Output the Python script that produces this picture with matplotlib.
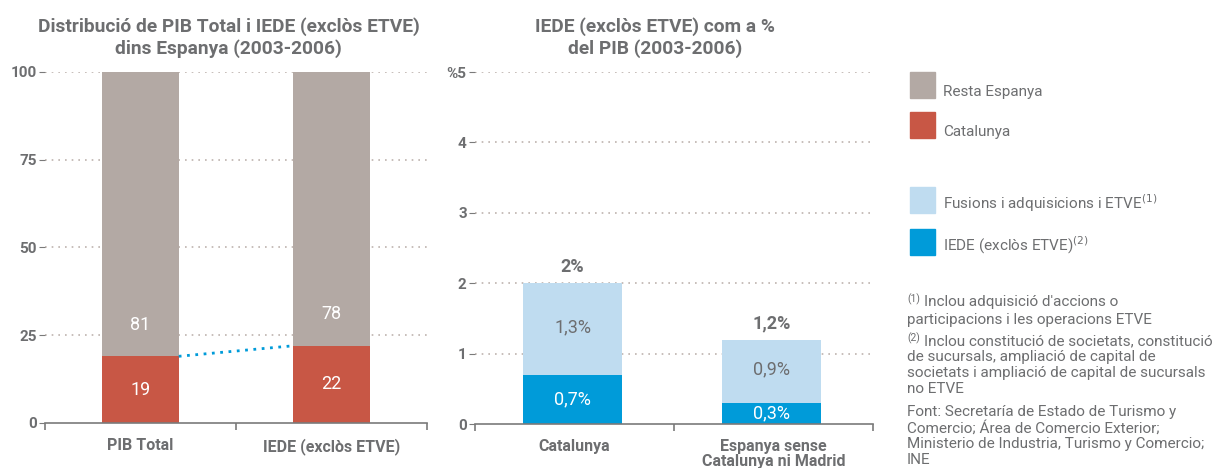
import matplotlib.pyplot as plt
import matplotlib.patches as mpatches

plt.rcParams['font.family'] = ['Roboto', 'DejaVu Sans']

# dades
pibCats = ["PIB Total", "IEDE (exclòs ETVE)"]
catalunya = [19, 22]
restaEspanya = [81, 78]

iedeCats = ["Catalunya", "Espanya sense\nCatalunya ni Madrid"]
iede = [0.7, 0.3]
fusions = [1.3, 0.9]
iedeLabels = ["0,7%", "0,3%"]
fusionsLabels = ["1,3%", "0,9%"]
totalLabels = ["2%", "1,2%"]

leftTicks = [0, 25, 50, 75, 100]
rightTicks = [0, 1, 2, 3, 4, 5]
rightTickLabels = ["0", "1", "2", "3", "4", "%5"]

GREY = "#b3a9a4"
RED = "#c85745"
LIGHTBLUE = "#bfdcf0"
BLUE = "#009bd9"
TXT = "#6d6e70"
GRID = "#bdb3ae"

H = 468.0
W = 1225.0
fig = plt.figure(figsize=(12.25, 4.68), dpi=100)


def style_axis(ax, xlim, ymax):
    for s in ["left", "top", "right"]:
        ax.spines[s].set_visible(False)
    ax.spines["bottom"].set_color("#7a7a7a")
    ax.spines["bottom"].set_linewidth(1.2)
    ax.set_xlim(0, xlim)
    ax.set_ylim(0, ymax)
    ax.set_xticks([0.5, 1.5])
    ax.set_xticks([0, 1, 2], minor=True)
    ax.tick_params(axis="x", which="major", length=0, pad=11, labelsize=11.5, labelcolor=TXT)
    ax.tick_params(axis="x", which="minor", length=5, color="#7a7a7a", width=1.2)
    ax.tick_params(axis="y", length=4, color="#7a7a7a", labelsize=11, labelcolor=TXT, pad=2)
    for lab in ax.get_yticklabels() + ax.get_xticklabels():
        lab.set_fontweight("bold")


# grafic esquerre
ax1 = fig.add_axes([0.0367, 0.0962, 0.312, 0.75])
x1 = [0.5, 1.5]
w1 = 0.4
for t in leftTicks[1:]:
    ax1.axhline(t, color=GRID, linestyle=(0, (1, 3)), linewidth=1.2, zorder=0)
ax1.bar(x1, catalunya, width=w1, color=RED, zorder=2)
ax1.bar(x1, restaEspanya, width=w1, bottom=catalunya, color=GREY, zorder=2)
for i in range(2):
    ax1.text(x1[i], catalunya[i] / 2, str(catalunya[i]), ha="center", va="center",
             color="white", fontsize=13)
    ax1.text(x1[i], catalunya[i] + 9, str(restaEspanya[i]), ha="center", va="center",
             color="white", fontsize=13)
ax1.plot([x1[0] + w1 / 2, x1[1] - w1 / 2], catalunya, color=BLUE,
         linestyle=(0, (1, 2)), linewidth=2, zorder=3)
ax1.set_yticks(leftTicks)
ax1.set_xticklabels(pibCats)
style_axis(ax1, 2, 100)
ax1.set_title("Distribució de PIB Total i IEDE (exclòs ETVE)\ndins Espanya (2003-2006)",
              fontsize=13.8, fontweight="bold", color=TXT, pad=13, linespacing=1.25, x=0.48)

# grafic dret
ax2 = fig.add_axes([0.3878, 0.094, 0.325, 0.752])
x2 = [0.49, 1.49]
w2 = 0.5
for t in rightTicks[1:]:
    ax2.axhline(t, color=GRID, linestyle=(0, (1, 3)), linewidth=1.2, zorder=0)
ax2.bar(x2, iede, width=w2, color=BLUE, zorder=2)
ax2.bar(x2, fusions, width=w2, bottom=iede, color=LIGHTBLUE, zorder=2)
for i in range(2):
    ax2.text(x2[i], iede[i] / 2, iedeLabels[i], ha="center", va="center",
             color="white", fontsize=13)
    ax2.text(x2[i], iede[i] + fusions[i] / 2 + 0.02, fusionsLabels[i], ha="center",
             va="center", color=TXT, fontsize=13)
    ax2.text(x2[i], iede[i] + fusions[i] + 0.1, totalLabels[i], ha="center",
             va="bottom", color=TXT, fontsize=13, fontweight="bold")
ax2.set_yticks(rightTicks)
ax2.set_yticklabels(rightTickLabels)
ax2.set_xticklabels(iedeCats, linespacing=0.95)
style_axis(ax2, 2, 5)
ax2.set_title("IEDE (exclòs ETVE) com a %\ndel PIB (2003-2006)",
              fontsize=13.8, fontweight="bold", color=TXT, pad=13, linespacing=1.25, x=0.452)

# llegenda
legendItems = [(GREY, "Resta Espanya", 72), (RED, "Catalunya", 112),
               (LIGHTBLUE, "Fusions i adquisicions i ETVE$^{(1)}$", 187),
               (BLUE, "IEDE (exclòs ETVE)$^{(2)}$", 229)]
for col, lab, ytop in legendItems:
    fig.patches.append(mpatches.Rectangle((910 / W, 1 - (ytop + 26) / H), 25 / W, 26 / H,
                                          transform=fig.transFigure, color=col))
    fig.text(943 / W, 1 - (ytop + 27) / H, lab, fontsize=11, color=TXT,
             ha="left", va="bottom")

# notes (una linia cada vegada)
noteLines = [("(1)", "Inclou adquisició d'accions o", 302),
             ("", "participacions i les operacions ETVE", 320),
             ("(2)", "Inclou constitució de societats, constitució", 341),
             ("", "de sucursals, ampliació de capital de", 357),
             ("", "societats i ampliació de capital de sucursals", 373),
             ("", "no ETVE", 389),
             ("", "Font: Secretaría de Estado de Turismo y", 412),
             ("", "Comercio; Área de Comercio Exterior;", 428),
             ("", "Ministerio de Industria, Turismo y Comercio;", 444),
             ("", "INE", 460)]
for pre, txt, y in noteLines:
    xx = 907
    if pre:
        fig.text(xx / W, 1 - (y - 3) / H, pre, fontsize=7.5, color=TXT, ha="left", va="center")
        xx = 924
    fig.text(xx / W, 1 - y / H, txt, fontsize=11, color=TXT, ha="left", va="center")

fig.savefig("out.png", dpi=100)
